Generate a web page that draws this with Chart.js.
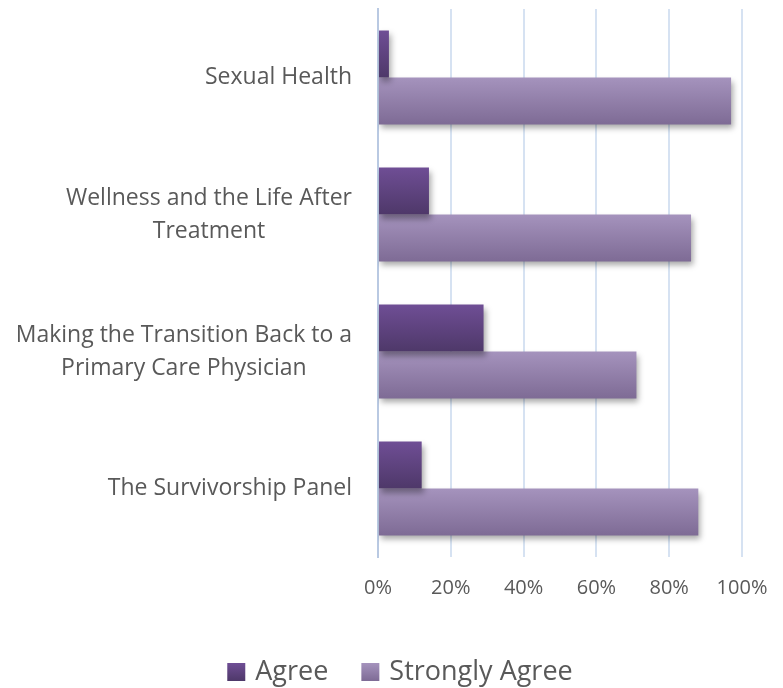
<!DOCTYPE html>
<html>
<head>
<meta charset="utf-8">
<script src="https://cdn.jsdelivr.net/npm/chart.js@4.4.1/dist/chart.umd.min.js"></script>
<style>
  html, body { margin: 0; padding: 0; background: #fff; }
  #wrap { width: 783px; height: 688px; }
</style>
</head>
<body>
<div id="wrap"><canvas id="grafico"></canvas></div>
<script>
// dados do gráfico
const categorias = [
    ['Sexual Health'],
    ['Wellness and the Life After', 'Treatment'],
    ['Making the Transition Back to a', 'Primary Care Physician'],
    ['The Survivorship Panel']
];
const agree = [3, 14, 29, 12];
const stronglyAgree = [97, 86, 71, 88];
const ticksX = ['0%', '20%', '40%', '60%', '80%', '100%'];

const fonte = '"Open Sans", "Liberation Sans", sans-serif';
const corTexto = '#595959';

// cores do degradê (topo, base) para cada série
const degrades = [
    ['#6f4e95', '#4e3869'],
    ['#a593bd', '#7e6b95']
];

// degradê vertical em cada barra + sombra
const pluginBarras = {
    id: 'pluginBarras',
    beforeDatasetDraw(chart, args) {
        const ctx = chart.ctx;
        const cores = degrades[args.index];
        args.meta.data.forEach(bar => {
            const top = bar.y - bar.height / 2;
            const g = ctx.createLinearGradient(0, top, 0, top + bar.height);
            g.addColorStop(0, cores[0]);
            g.addColorStop(1, cores[1]);
            bar.options.backgroundColor = g;
        });
        ctx.save();
        ctx.shadowColor = 'rgba(0,0,0,0.35)';
        ctx.shadowBlur = 6;
        ctx.shadowOffsetX = 2;
        ctx.shadowOffsetY = 4;
    },
    afterDatasetDraw(chart) {
        chart.ctx.restore();
    }
};

// rótulos das categorias: bloco alinhado à direita, linhas centralizadas
const pluginRotulos = {
    id: 'pluginRotulos',
    afterDraw(chart) {
        const ctx = chart.ctx;
        const y = chart.scales.y;
        ctx.save();
        ctx.font = '23px ' + fonte;
        ctx.fillStyle = corTexto;
        ctx.textBaseline = 'middle';
        ctx.textAlign = 'center';
        const direita = chart.chartArea.left - 26;
        const alturaLinha = 33;
        categorias.forEach((linhas, i) => {
            const larg = Math.max(...linhas.map(l => ctx.measureText(l).width));
            const cx = direita - larg / 2;
            const cy = y.getPixelForValue(i);
            const inicio = cy - (linhas.length - 1) * alturaLinha / 2;
            linhas.forEach((l, k) => ctx.fillText(l, cx, inicio + k * alturaLinha));
        });
        ctx.restore();
    }
};

// legenda desenhada à mão (espaçamento igual ao original)
const pluginLegenda = {
    id: 'pluginLegenda',
    afterDraw(chart) {
        const ctx = chart.ctx;
        ctx.save();
        ctx.font = '27px ' + fonte;
        ctx.textBaseline = 'middle';
        ctx.textAlign = 'left';
        const caixa = 18, folga = 10, entre = 33;
        const itens = chart.data.datasets.map(d => d.label);
        const total = itens.reduce((s, t) => s + caixa + folga + ctx.measureText(t).width, 0) + entre * (itens.length - 1);
        let x = 400 - total / 2;
        const cy = 672;
        itens.forEach((t, i) => {
            const g = ctx.createLinearGradient(0, cy - caixa / 2, 0, cy + caixa / 2);
            g.addColorStop(0, degrades[i][0]);
            g.addColorStop(1, degrades[i][1]);
            ctx.fillStyle = g;
            ctx.fillRect(x, cy - caixa / 2, caixa, caixa);
            x += caixa + folga;
            ctx.fillStyle = corTexto;
            ctx.fillText(t, x, cy);
            x += ctx.measureText(t).width + entre;
        });
        ctx.restore();
    }
};

new Chart(document.getElementById('grafico'), {
    type: 'bar',
    data: {
        labels: categorias,
        datasets: [
            {
                label: 'Agree',
                data: agree,
                backgroundColor: (c) => degrades[0][1],
                categoryPercentage: 0.686,
                barPercentage: 1.0
            },
            {
                label: 'Strongly Agree',
                data: stronglyAgree,
                backgroundColor: (c) => degrades[1][1],
                categoryPercentage: 0.686,
                barPercentage: 1.0
            }
        ]
    },
    options: {
        indexAxis: 'y',
        responsive: true,
        maintainAspectRatio: false,
        animation: false,
        layout: { padding: { top: 9, right: 41, left: 0, bottom: 71 } },
        scales: {
            x: {
                min: 0,
                max: 100,
                ticks: {
                    stepSize: 20,
                    padding: 19,
                    color: corTexto,
                    font: { family: fonte, size: 20 },
                    callback: (v, i) => ticksX[i]
                },
                grid: {
                    drawTicks: false,
                    lineWidth: 2,
                    color: (c) => c.index === 0 ? 'rgba(0,0,0,0)' : '#d6e2f2'
                },
                border: { display: false },
                afterFit: (s) => {
                    s.height = 60;
                    s.paddingLeft = 0;
                    s.paddingRight = 0;
                }
            },
            y: {
                ticks: { display: false },
                grid: { display: false, drawTicks: false },
                border: { display: true, color: '#b9c9e2', width: 2, dash: [2, 3] },
                afterFit: (s) => { s.width = 378; }
            }
        },
        plugins: {
            legend: { display: false },
            tooltip: { enabled: false }
        }
    },
    plugins: [pluginBarras, pluginRotulos, pluginLegenda]
});
</script>
</body>
</html>
